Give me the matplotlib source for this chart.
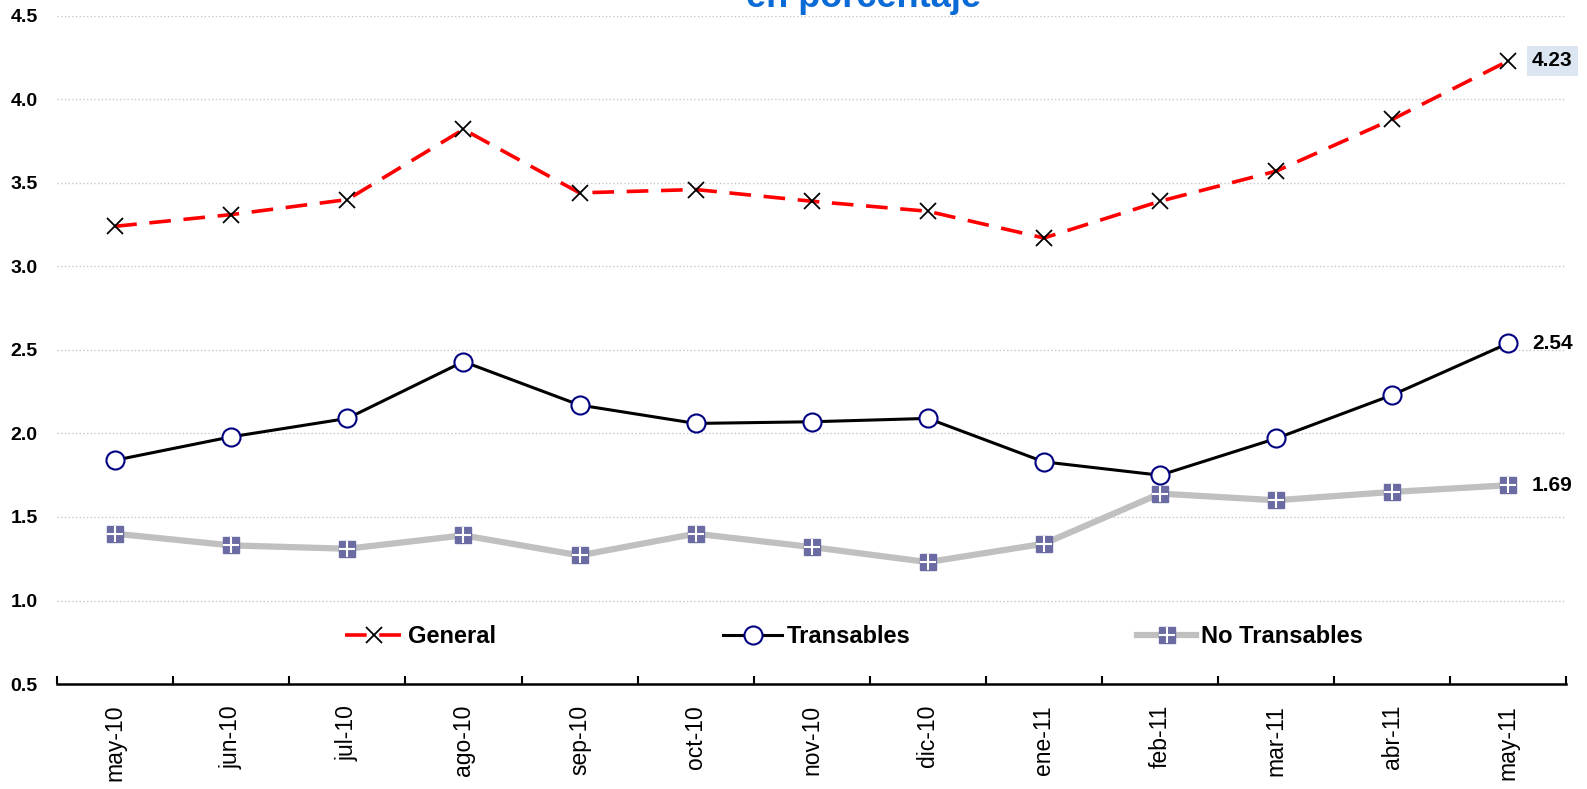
import numpy as np
import matplotlib.pyplot as plt

plt.rcParams['font.family'] = ['Liberation Sans', 'DejaVu Sans']

months = ["may-10", "jun-10", "jul-10", "ago-10", "sep-10", "oct-10", "nov-10",
          "dic-10", "ene-11", "feb-11", "mar-11", "abr-11", "may-11"]
general = [3.24, 3.31, 3.40, 3.82, 3.44, 3.46, 3.39, 3.33, 3.17, 3.39, 3.57, 3.88, 4.23]
transables = [1.84, 1.98, 2.09, 2.43, 2.17, 2.06, 2.07, 2.09, 1.83, 1.75, 1.97, 2.23, 2.54]
no_transables = [1.40, 1.33, 1.31, 1.39, 1.27, 1.40, 1.32, 1.23, 1.34, 1.64, 1.60, 1.65, 1.69]
yticks = [0.5, 1.0, 1.5, 2.0, 2.5, 3.0, 3.5, 4.0, 4.5]

x = np.arange(len(months))

fig = plt.figure(figsize=(15.87, 7.89), dpi=100)
ax = fig.add_axes([0.036, 0.133, 0.951, 0.847])

# No Transables: grey thick line, purple squares with white cross
ln_nt, = ax.plot(x, no_transables, color="#c0c0c0", lw=4.5, marker="s", ms=11,
                 mfc="#6b6ba3", mec="#6b6ba3", zorder=3)
ln_nt_plus, = ax.plot(x, no_transables, ls="none", marker="+", ms=11, mew=1.5,
                      color="white", zorder=4)

# Transables
ln_t, = ax.plot(x, transables, color="black", lw=2.2, marker="o", ms=13,
                mfc="white", mec="#000080", mew=1.5, zorder=5)

# General
ln_g, = ax.plot(x, general, color="#ff0000", lw=2.6, dashes=(6, 3.5), marker="x",
                ms=12, mec="black", mew=1.3, zorder=6)

# end labels
ax.annotate(f"{general[-1]:.2f}", (x[-1], general[-1]), xytext=(17, 0),
            textcoords="offset points", va="center", ha="left", fontsize=15,
            fontweight="bold",
            bbox=dict(boxstyle="square,pad=0.25", fc="#dce6f2", ec="none"))
ax.annotate(f"{transables[-1]:.2f}", (x[-1], transables[-1]), xytext=(17, 0),
            textcoords="offset points", va="center", ha="left", fontsize=15,
            fontweight="bold")
ax.annotate(f"{no_transables[-1]:.2f}", (x[-1], no_transables[-1]), xytext=(17, 0),
            textcoords="offset points", va="center", ha="left", fontsize=15,
            fontweight="bold")

ax.set_xlim(-0.5, len(months) - 0.5)
ax.set_ylim(0.5, 4.5)
ax.set_yticks(yticks)
ax.set_yticklabels([f"{v:.1f}" for v in yticks], fontsize=14, fontweight="bold")
ax.yaxis.grid(True, color="#c8c8c8", ls=":", lw=1)
ax.set_axisbelow(True)

ax.set_xticks(x)
ax.set_xticklabels(months, rotation=90, fontsize=16.5)
ax.set_xticks(np.arange(len(months) + 1) - 0.5, minor=True)
ax.tick_params(axis="x", which="major", length=0, pad=15)
ax.tick_params(axis="x", which="minor", direction="in", length=6, width=1.5)
ax.tick_params(axis="y", length=0, pad=14)

for s in ["left", "right", "top"]:
    ax.spines[s].set_visible(False)
ax.spines["bottom"].set_linewidth(1.8)

ax.legend([ln_g, ln_t, (ln_nt, ln_nt_plus)], ["General", "Transables", "No Transables"],
          loc="center", bbox_to_anchor=(0.538, 0.193), bbox_transform=fig.transFigure,
          ncol=3, frameon=False, handlelength=2.5, handletextpad=0.2,
          columnspacing=9.6, prop=dict(size=17, weight="bold"))

fig.text(0.544, 0.991, "en porcentaje", color="#0a6ad6", fontsize=26,
         fontweight="bold", ha="center", va="baseline")

fig.savefig("out.png", dpi=100)
